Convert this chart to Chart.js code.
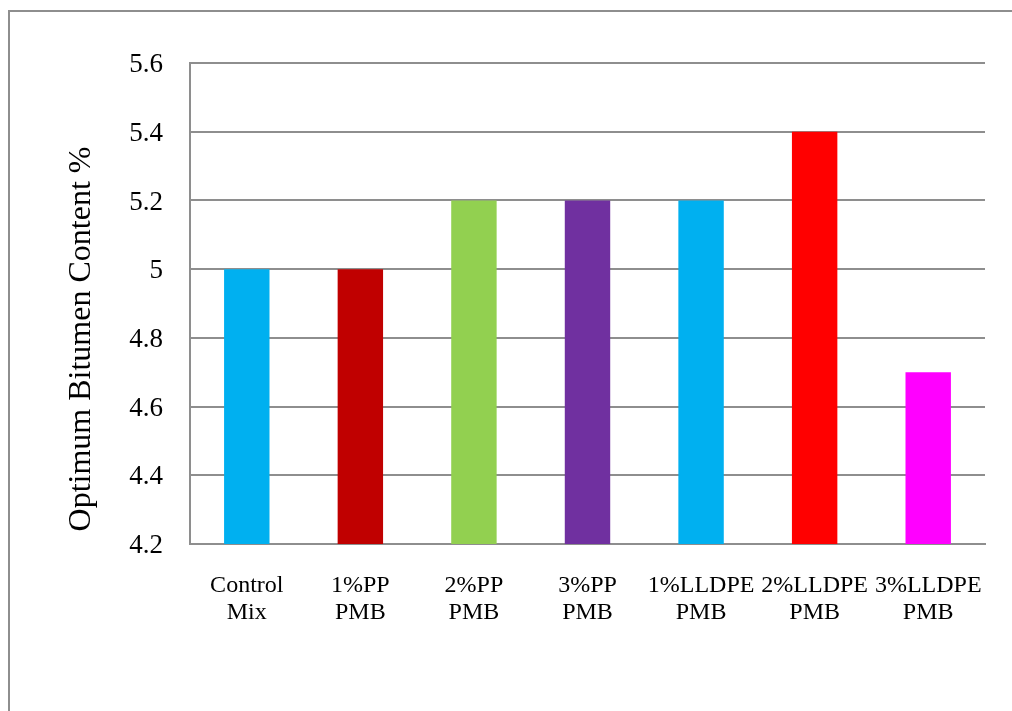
<!DOCTYPE html>
<html>
<head>
<meta charset="utf-8">
<script src="https://cdn.jsdelivr.net/npm/chart.js@4.4.1/dist/chart.umd.min.js"></script>
<style>
    body { margin: 0; background: #fff; }
    canvas { display: block; }
</style>
</head>
<body>
<canvas id="obcChart" width="1012" height="711"></canvas>
<script>
// Optimum bitumen content for each mix
const mixLabels = [
    ['Control', 'Mix'],
    ['1%PP', 'PMB'],
    ['2%PP', 'PMB'],
    ['3%PP', 'PMB'],
    ['1%LLDPE', 'PMB'],
    ['2%LLDPE', 'PMB'],
    ['3%LLDPE', 'PMB']
];
const obcValues = [5.0, 5.0, 5.2, 5.2, 5.2, 5.4, 4.7];
const barColors = ['#00B0F0', '#C00000', '#92D050', '#7030A0', '#00B0F0', '#FF0000', '#FF00FF'];
const yMin = 4.2;
const yMax = 5.6;
const yStep = 0.2;
const yTitle = 'Optimum Bitumen Content %';

const serif = "'Liberation Serif', 'Times New Roman', serif";
const lineGrey = '#8e8e8e';

// Frame around the whole figure
const framePlugin = {
    id: 'frame',
    beforeDraw(chart) {
        const ctx = chart.ctx;
        ctx.save();
        ctx.fillStyle = '#fff';
        ctx.fillRect(0, 0, chart.width, chart.height);
        ctx.strokeStyle = lineGrey;
        ctx.lineWidth = 2;
        ctx.strokeRect(9, 11, 1100, 800);
        ctx.restore();
    }
};

// Vertical axis caption
const yTitlePlugin = {
    id: 'yTitle',
    afterDraw(chart) {
        const ctx = chart.ctx;
        ctx.save();
        ctx.translate(82, 339);
        ctx.rotate(-Math.PI / 2);
        ctx.font = '32px ' + serif;
        ctx.fillStyle = '#000';
        ctx.textAlign = 'center';
        ctx.textBaseline = 'middle';
        ctx.fillText(yTitle, 0, 0);
        ctx.restore();
    }
};

new Chart(document.getElementById('obcChart'), {
    type: 'bar',
    data: {
        labels: mixLabels,
        datasets: [{
            data: obcValues,
            backgroundColor: barColors,
            borderWidth: 0,
            barPercentage: 0.4,
            categoryPercentage: 1.0
        }]
    },
    options: {
        responsive: false,
        animation: false,
        devicePixelRatio: 1,
        layout: {
            padding: { top: 63, right: 27, left: 0, bottom: 0 }
        },
        plugins: {
            legend: { display: false },
            tooltip: { enabled: false }
        },
        scales: {
            x: {
                grid: { display: false },
                border: { display: true, color: lineGrey, width: 2 },
                ticks: {
                    color: '#000',
                    padding: 20,
                    maxRotation: 0,
                    autoSkip: false,
                    font: { family: serif, size: 24, lineHeight: 1.12 }
                },
                afterFit(scale) { scale.height = 167; }
            },
            y: {
                min: yMin,
                max: yMax,
                ticks: {
                    stepSize: yStep,
                    color: '#000',
                    padding: 27,
                    labelOffset: 2,
                    font: { family: serif, size: 27 },
                    callback: v => String(Number(v.toFixed(1)))
                },
                grid: { color: lineGrey, lineWidth: 2, drawTicks: false },
                border: { display: true, color: lineGrey, width: 2 },
                afterFit(scale) { scale.width = 190; }
            }
        }
    },
    plugins: [framePlugin, yTitlePlugin]
});
</script>
</body>
</html>
